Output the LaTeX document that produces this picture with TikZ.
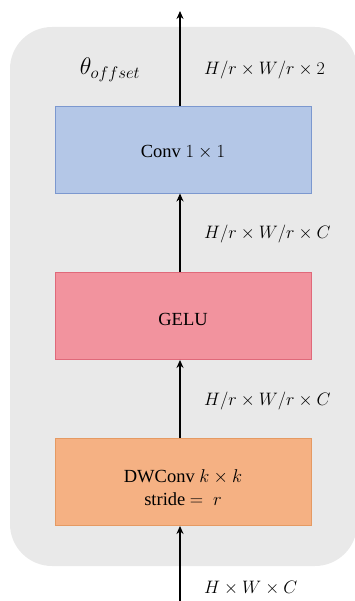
\RequirePackage{fix-cm}
\documentclass[tikz,border=0pt]{standalone}
\usepackage{fontspec}
\setmainfont{Liberation Serif}
\usetikzlibrary{arrows.meta}
\definecolor{panelgray}{HTML}{E9E9E9}
\definecolor{convfill}{HTML}{B4C7E7}
\definecolor{convline}{HTML}{7C98CF}
\definecolor{gelufill}{HTML}{F2939E}
\definecolor{geluline}{HTML}{E0697A}
\definecolor{dwfill}{HTML}{F5B183}
\definecolor{dwline}{HTML}{E59A63}
\tikzset{
  layerbox/.style={draw, line width=0.9pt, minimum width=256pt, minimum height=87pt,
    inner sep=0pt, align=center, font=\fontsize{18.5}{21}\selectfont},
  boxtext/.style={align=center, inner sep=0pt, font=\fontsize{18.5}{23}\selectfont},
  flow/.style={line width=1.4pt, -{Stealth[length=8pt,width=7pt]}},
  dimlabel/.style={anchor=west, inner sep=0pt, font=\fontsize{18}{21}\selectfont},
}
\begin{document}
\begin{tikzpicture}[x=1pt,y=-1pt]
  \useasboundingbox (0,0) rectangle (355,601);
  % rounded panel behind the three layers
  \begin{scope}
    \clip (0,0) rectangle (355,601);
    \fill[panelgray] (10,27) [rounded corners=42pt] rectangle (357,566);
  \end{scope}

  % layers
  \node[layerbox, fill=convfill, draw=convline,
        label={[boxtext, yshift=-3pt]center:Conv $1\times1$}] (conv) at (183,149.5) {};
  \node[layerbox, fill=gelufill, draw=geluline,
        label={[boxtext, yshift=-3pt]center:GELU}] (gelu) at (183,316) {};
  \node[layerbox, fill=dwfill, draw=dwline,
        label={[boxtext, yshift=-6pt]center:DWConv $k\times k$\\stride $=\ r$}] (dw) at (183,482) {};

  % main axis of the data flow
  \coordinate (axis) at (180,0);
  \coordinate (in) at (180,601);
  \coordinate (out) at (180,11);

  \draw[flow] (in) -- (dw.south -| axis);
  \draw[flow] (dw.north -| axis) -- (gelu.south -| axis);
  \draw[flow] (gelu.north -| axis) -- (conv.south -| axis);
  \draw[flow] (conv.north -| axis) -- (out);

  % tensor shapes along the flow
  \node[dimlabel] (d0) at (204,588) {$H\times W\times C$};
  \node[dimlabel] (d1) at (204,401) {$H/r\times W/r\times C$};
  \node[dimlabel] (d2) at (204,234) {$H/r\times W/r\times C$};
  \node[dimlabel] (d3) at (204,70) {$H/r\times W/r\times 2$};
  \node[inner sep=0pt, font=\fontsize{24}{28}\selectfont] (theta) at (110,70) {$\theta_{offset}$};
\end{tikzpicture}
\end{document}
